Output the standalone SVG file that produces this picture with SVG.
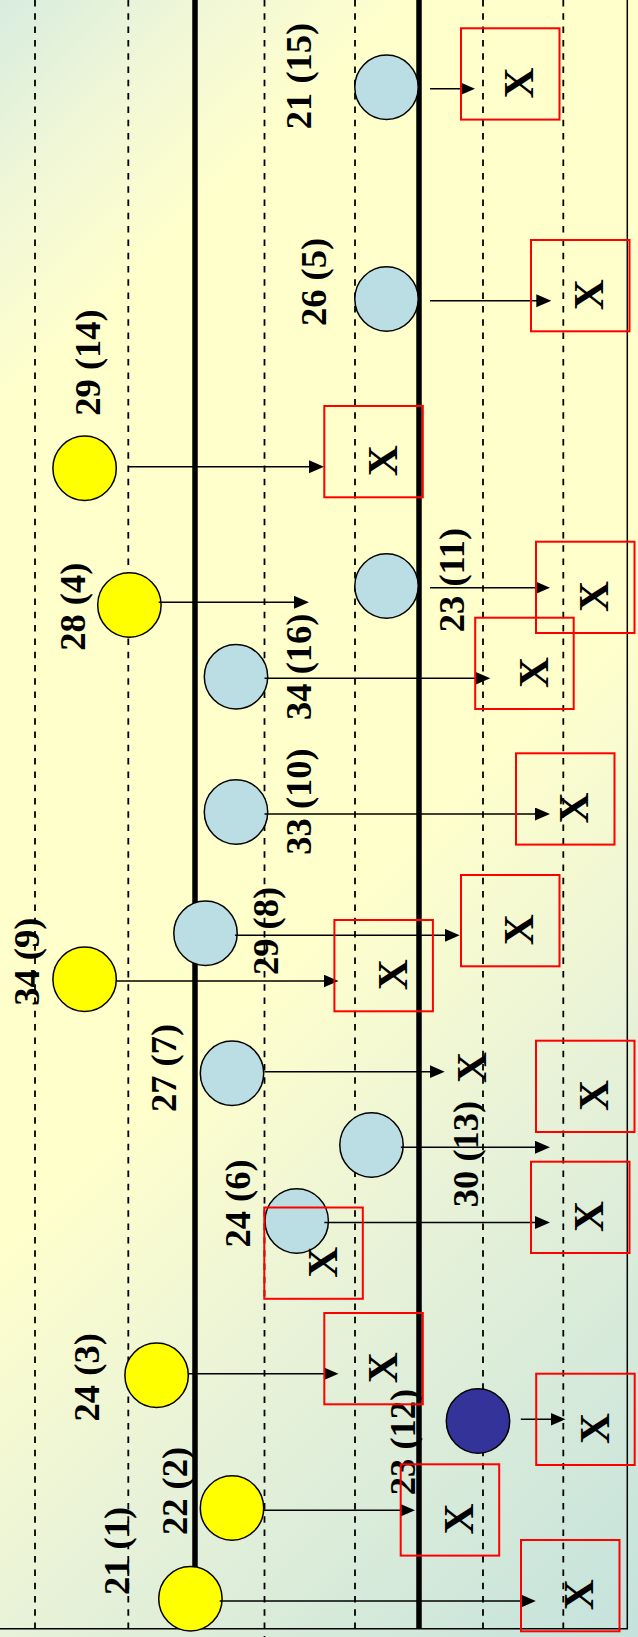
<svg xmlns="http://www.w3.org/2000/svg" width="638" height="1637" viewBox="0 0 638 1637">
<defs>
<linearGradient id="bg" gradientUnits="userSpaceOnUse" x1="0" y1="0" x2="1137.5" y2="1137.5">
<stop offset="0" stop-color="#D8ECDF"/>
<stop offset="0.1" stop-color="#F2F8D6"/>
<stop offset="0.18" stop-color="#FFFFCC"/>
<stop offset="0.55" stop-color="#FFFFCC"/>
<stop offset="0.72" stop-color="#E8F2D8"/>
<stop offset="1" stop-color="#C4E2DC"/>
</linearGradient>
<marker id="ah" markerUnits="userSpaceOnUse" markerWidth="16" markerHeight="14" refX="5" refY="6.5" orient="auto">
<path d="M0,0 L15,6.5 L0,13 z" fill="#000"/>
</marker>
<style>
.dash{stroke:#000;stroke-width:1.8;stroke-dasharray:6.5 6.8;fill:none}
.thick{stroke:#000;stroke-width:5.5}
.thin{stroke:#000;stroke-width:1.5}
.c{stroke:#000;stroke-width:1.5}
.lb{fill:#BBDEE4}
.yl{fill:#FFFF00}
.db{fill:#333399}
.box{fill:none;stroke:#FF0000;stroke-width:2}
.t{font-family:"Liberation Serif","Times New Roman",serif;font-weight:bold;text-anchor:middle;fill:#000}
.lbl{font-size:36.5px}
.x{font-size:43px}
.arr{stroke:#000;stroke-width:1.5;fill:none;marker-end:url(#ah)}
</style>
</defs>
<rect x="0" y="0" width="638" height="1637" fill="url(#bg)"/>
<g id="lanes">
<line class="dash" x1="35" y1="0" x2="35" y2="1629"/>
<line class="dash" x1="128.3" y1="0" x2="128.3" y2="1629"/>
<line class="dash" x1="264.5" y1="0" x2="264.5" y2="1637"/>
<line class="dash" x1="355" y1="0" x2="355" y2="1629"/>
<line class="dash" x1="483" y1="0" x2="483" y2="1629"/>
<line class="dash" x1="563.3" y1="0" x2="563.3" y2="1629"/>
<line class="thick" x1="195" y1="0" x2="195" y2="1629"/>
<line class="thick" x1="419" y1="0" x2="419" y2="1629"/>
<line class="thin" x1="627.3" y1="0" x2="627.3" y2="1629"/>
<line class="thin" x1="0" y1="1628.7" x2="628" y2="1628.7"/>
</g>
<g id="n21-15"><ellipse class="c lb" cx="386.5" cy="87.3" rx="31.7" ry="32.2"/><text class="t lbl" transform="translate(311,76) rotate(-90)">21 (15)</text></g>
<g id="n26-5"><ellipse class="c lb" cx="386.5" cy="299" rx="31.7" ry="32.2"/><text class="t lbl" transform="translate(325.5,282) rotate(-90)">26 (5)</text></g>
<g id="n29-14"><ellipse class="c yl" cx="84.6" cy="468.3" rx="31.7" ry="32.2"/><text class="t lbl" transform="translate(99.7,362.5) rotate(-90)">29 (14)</text></g>
<g id="n28-4"><ellipse class="c yl" cx="129.4" cy="605" rx="31.7" ry="32.2"/><text class="t lbl" transform="translate(85.4,606.7) rotate(-90)">28 (4)</text></g>
<g id="n23-11"><ellipse class="c lb" cx="386.5" cy="586" rx="31.7" ry="32.2"/><text class="t lbl" transform="translate(463.8,580) rotate(-90)">23 (11)</text></g>
<g id="n34-16"><ellipse class="c lb" cx="236" cy="676.7" rx="31.7" ry="32.2"/><text class="t lbl" transform="translate(311.2,666.7) rotate(-90)">34 (16)</text></g>
<g id="n33-10"><ellipse class="c lb" cx="236" cy="812" rx="31.7" ry="32.2"/><text class="t lbl" transform="translate(311.2,801.5) rotate(-90)">33 (10)</text></g>
<g id="n34-9"><ellipse class="c yl" cx="84.6" cy="979.3" rx="31.7" ry="32.2"/><text class="t lbl" transform="translate(38.7,961.7) rotate(-90)">34 (9)</text></g>
<g id="n29-8"><ellipse class="c lb" cx="205.5" cy="933.3" rx="31.7" ry="32.2"/><text class="t lbl" transform="translate(278,931) rotate(-90)">29 (8)</text></g>
<g id="n27-7"><ellipse class="c lb" cx="232" cy="1073.3" rx="31.7" ry="32.2"/><text class="t lbl" transform="translate(175.8,1068) rotate(-90)">27 (7)</text></g>
<g id="n30-13"><ellipse class="c lb" cx="371.5" cy="1145" rx="31.7" ry="32.2"/><text class="t lbl" transform="translate(478,1154) rotate(-90)">30 (13)</text></g>
<g id="n24-6"><ellipse class="c lb" cx="296.7" cy="1221" rx="31.7" ry="32.2"/><text class="t lbl" transform="translate(250,1203.5) rotate(-90)">24 (6)</text></g>
<g id="n24-3"><ellipse class="c yl" cx="156.6" cy="1375.3" rx="31.7" ry="32.2"/><text class="t lbl" transform="translate(98.5,1377.3) rotate(-90)">24 (3)</text></g>
<g id="n23-12"><ellipse class="c db" cx="478" cy="1421" rx="31.7" ry="32.2"/><text class="t lbl" transform="translate(415,1442) rotate(-90)">23 (12)</text></g>
<g id="n22-2"><ellipse class="c yl" cx="232" cy="1508" rx="31.7" ry="32.2"/><text class="t lbl" transform="translate(187.2,1491) rotate(-90)">22 (2)</text></g>
<g id="n21-1"><ellipse class="c yl" cx="190.4" cy="1598.7" rx="31.7" ry="32.2"/><text class="t lbl" transform="translate(129.4,1551) rotate(-90)">21 (1)</text></g>
<g id="connectors">
<line class="arr" x1="430" y1="88.7" x2="465" y2="88.7"/>
<line class="arr" x1="430" y1="300.7" x2="541.3" y2="300.7"/>
<line class="arr" x1="128" y1="466.7" x2="314" y2="466.7"/>
<line class="arr" x1="158.7" y1="602.3" x2="299" y2="602.3"/>
<line class="arr" x1="430" y1="587.7" x2="540" y2="587.7"/>
<line class="arr" x1="264.5" y1="678.3" x2="480.3" y2="678.3"/>
<line class="arr" x1="264.5" y1="814" x2="540" y2="814"/>
<line class="arr" x1="116" y1="981" x2="328.5" y2="981"/>
<line class="arr" x1="235" y1="935.3" x2="449.7" y2="935.3"/>
<line class="arr" x1="264.5" y1="1071.7" x2="434.7" y2="1071.7"/>
<line class="arr" x1="400.8" y1="1147.3" x2="540" y2="1147.3"/>
<line class="arr" x1="324.3" y1="1222.5" x2="540" y2="1222.5"/>
<line class="arr" x1="188.4" y1="1373.7" x2="328.5" y2="1373.7"/>
<line class="arr" x1="520.8" y1="1419.3" x2="555.5" y2="1419.3"/>
<line class="arr" x1="263.6" y1="1510.3" x2="405" y2="1510.3"/>
<line class="arr" x1="219.7" y1="1601" x2="525.8" y2="1601"/>
</g>
<g id="b1" transform="translate(461,28.3)"><rect class="box" width="98.5" height="91.3"/><text class="t x" transform="translate(72.4,54.7) rotate(-90)">X</text></g>
<g id="b2" transform="translate(531,240)"><rect class="box" width="98.5" height="91.3"/><text class="t x" transform="translate(72.4,54.7) rotate(-90)">X</text></g>
<g id="b3" transform="translate(324.3,406)"><rect class="box" width="98.5" height="91.3"/><text class="t x" transform="translate(72.4,54.7) rotate(-90)">X</text></g>
<g id="b4" transform="translate(536,541.7)"><rect class="box" width="98.5" height="91.3"/><text class="t x" transform="translate(72.4,54.7) rotate(-90)">X</text></g>
<g id="b5" transform="translate(475.2,617.7)"><rect class="box" width="98.5" height="91.3"/><text class="t x" transform="translate(72.4,54.7) rotate(-90)">X</text></g>
<g id="b6" transform="translate(516,753.3)"><rect class="box" width="98.5" height="91.3"/><text class="t x" transform="translate(72.4,54.7) rotate(-90)">X</text></g>
<g id="b7" transform="translate(334.4,920)"><rect class="box" width="98.5" height="91.3"/><text class="t x" transform="translate(72.4,54.7) rotate(-90)">X</text></g>
<g id="b8" transform="translate(461,875)"><rect class="box" width="98.5" height="91.3"/><text class="t x" transform="translate(72.4,54.7) rotate(-90)">X</text></g>
<g id="b9" transform="translate(536,1040.7)"><rect class="box" width="98.5" height="91.3"/><text class="t x" transform="translate(72.4,54.7) rotate(-90)">X</text></g>
<g id="b10" transform="translate(531,1161.7)"><rect class="box" width="98.5" height="91.3"/><text class="t x" transform="translate(72.4,54.7) rotate(-90)">X</text></g>
<g id="b11" transform="translate(264.3,1207.5)"><rect class="box" width="98.5" height="91.3"/><text class="t x" transform="translate(72.4,54.7) rotate(-90)">X</text></g>
<g id="b12" transform="translate(324.3,1313)"><rect class="box" width="98.5" height="91.3"/><text class="t x" transform="translate(72.4,54.7) rotate(-90)">X</text></g>
<g id="b13" transform="translate(536.2,1373.7)"><rect class="box" width="98.5" height="91.3"/><text class="t x" transform="translate(72.4,54.7) rotate(-90)">X</text></g>
<g id="b14" transform="translate(400.7,1464.3)"><rect class="box" width="98.5" height="91.3"/><text class="t x" transform="translate(72.4,54.7) rotate(-90)">X</text></g>
<g id="b15" transform="translate(521,1540)"><rect class="box" width="98.5" height="91.3"/><text class="t x" transform="translate(72.4,54.7) rotate(-90)">X</text></g>
<g id="x-free"><text class="t x" transform="translate(486.2,1067.5) rotate(-90)">X</text></g>
</svg>
